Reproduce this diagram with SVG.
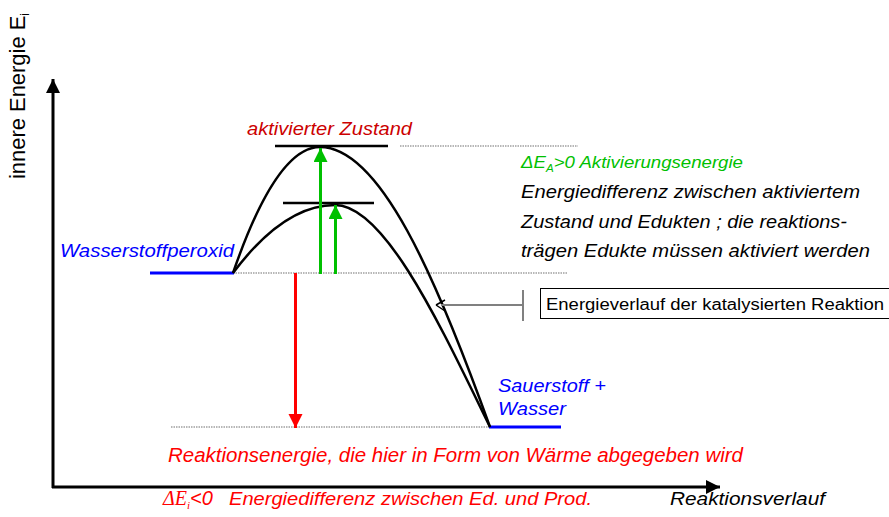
<svg xmlns="http://www.w3.org/2000/svg" width="889" height="517" viewBox="0 0 889 517">
<defs>
<style>
text{font-family:"Liberation Sans",Arial,sans-serif}
.it{font-style:italic}
.ax{stroke:#000;stroke-width:3;fill:none}
.curve{stroke:#000;stroke-width:2.5;fill:none}
.lvl{stroke:#000;stroke-width:2.5}
.blue{stroke:#0000ff;stroke-width:3}
.dot{stroke:#a0a0a0;stroke-width:1.3;stroke-dasharray:1.5 1}
.green{stroke:#00c000;stroke-width:3}
.red{stroke:#ff0000;stroke-width:3}
</style>
<marker id="ahk" markerUnits="userSpaceOnUse" markerWidth="16" markerHeight="16" refX="14" refY="7" orient="auto"><path d="M0,0 L14,7 L0,14 Z" fill="#000"/></marker>
<marker id="ahg" markerUnits="userSpaceOnUse" markerWidth="16" markerHeight="16" refX="14" refY="7" orient="auto"><path d="M0,0 L14,7 L0,14 Z" fill="#00c000"/></marker>
<marker id="ahr" markerUnits="userSpaceOnUse" markerWidth="16" markerHeight="16" refX="14" refY="7" orient="auto"><path d="M0,0 L14,7 L0,14 Z" fill="#ff0000"/></marker>
</defs>
<rect width="889" height="517" fill="#fff"/>

<g id="axes">
<line class="ax" x1="53" y1="488" x2="53" y2="79" marker-end="url(#ahk)"/>
<line class="ax" x1="52" y1="487" x2="720" y2="487" marker-end="url(#ahk)"/>
<text transform="translate(25,179) rotate(-90)" font-size="22" fill="#000" textLength="166" lengthAdjust="spacingAndGlyphs">innere Energie E<tspan font-size="12" dy="4">i</tspan></text>
<text class="it" x="670" y="505" font-size="18" textLength="155" lengthAdjust="spacingAndGlyphs">Reaktionsverlauf</text>
</g>

<g id="guides">
<line class="dot" x1="400" y1="146" x2="578" y2="146"/>
<line class="dot" x1="233" y1="273" x2="567" y2="273"/>
<line class="dot" x1="171" y1="427" x2="490" y2="427"/>
</g>

<g id="edukt">
<line class="blue" x1="150" y1="273" x2="234" y2="273"/>
<text class="it" x="60" y="257" font-size="19" fill="#0000ff" textLength="174" lengthAdjust="spacingAndGlyphs">Wasserstoffperoxid</text>
</g>

<g id="produkt">
<line class="blue" x1="489" y1="427" x2="561" y2="427"/>
<text class="it" x="498" y="392" font-size="19" fill="#0000ff" textLength="108" lengthAdjust="spacingAndGlyphs">Sauerstoff +</text>
<text class="it" x="498" y="415" font-size="19" fill="#0000ff" textLength="68" lengthAdjust="spacingAndGlyphs">Wasser</text>
</g>

<g id="aktivierter-zustand">
<line class="lvl" x1="275" y1="146" x2="388" y2="146"/>
<text class="it" x="247" y="135" font-size="19" fill="#cc0000" textLength="165" lengthAdjust="spacingAndGlyphs">aktivierter Zustand</text>
</g>

<g id="katalysierter-zustand">
<line class="lvl" x1="283" y1="203" x2="374" y2="203"/>
</g>

<g id="kurven">
<path class="curve" d="M233,273 Q276.5,147 320,147 C380,147 436,277 490,427"/>
<path class="curve" d="M233,273 Q284,205 335,205 C385,205 441,327 490,427"/>
</g>

<g id="aktivierungsenergie">
<text class="it" x="521" y="168" font-size="16" fill="#00c000" textLength="222" lengthAdjust="spacingAndGlyphs">ΔE<tspan font-size="10" dy="4">A</tspan><tspan dy="-4">&gt;0 Aktivierungsenergie</tspan></text>
<text class="it" x="521" y="198" font-size="18" fill="#000" textLength="339" lengthAdjust="spacingAndGlyphs">Energiedifferenz zwischen aktiviertem</text>
<text class="it" x="521" y="228" font-size="18" fill="#000" textLength="326" lengthAdjust="spacingAndGlyphs">Zustand und Edukten ; die reaktions-</text>
<text class="it" x="521" y="257" font-size="18" fill="#000" textLength="349" lengthAdjust="spacingAndGlyphs">trägen Edukte müssen aktiviert werden</text>
</g>

<g id="callout">
<rect x="540.5" y="288.5" width="352" height="30" fill="#fff" stroke="#000" stroke-width="1"/>
<text x="546" y="310" font-size="16" fill="#000" textLength="338" lengthAdjust="spacingAndGlyphs">Energieverlauf der katalysierten Reaktion</text>
</g>

<g id="reaktionsenergie">
<text class="it" x="168" y="462" font-size="20" fill="#ff0000" textLength="575" lengthAdjust="spacingAndGlyphs">Reaktionsenergie, die hier in Form von Wärme abgegeben wird</text>
<text x="163" y="505" font-size="20" fill="#ff0000"><tspan font-family="Liberation Serif" font-style="italic">ΔE</tspan><tspan font-family="Liberation Serif" font-style="italic" font-size="11" dy="4">i</tspan><tspan class="it" dy="-4">&lt;0</tspan></text>
<text class="it" x="229" y="505" font-size="19" fill="#ff0000" textLength="363" lengthAdjust="spacingAndGlyphs">Energiedifferenz zwischen Ed. und Prod.</text>
</g>

<g id="connectors">
<line class="green" x1="320.5" y1="274" x2="320.5" y2="148" marker-end="url(#ahg)"/>
<line class="green" x1="335.5" y1="274" x2="335.5" y2="205" marker-end="url(#ahg)"/>
<line class="red" x1="295.5" y1="273" x2="295.5" y2="428" marker-end="url(#ahr)"/>
<line x1="523" y1="305" x2="441" y2="305" stroke="#808080" stroke-width="2"/>
<line x1="523" y1="290" x2="523" y2="321" stroke="#808080" stroke-width="2"/>
<path d="M436,305 L445,300 M436,305 L445,311" stroke="#000" stroke-width="1.5" fill="none"/>
</g>
</svg>
